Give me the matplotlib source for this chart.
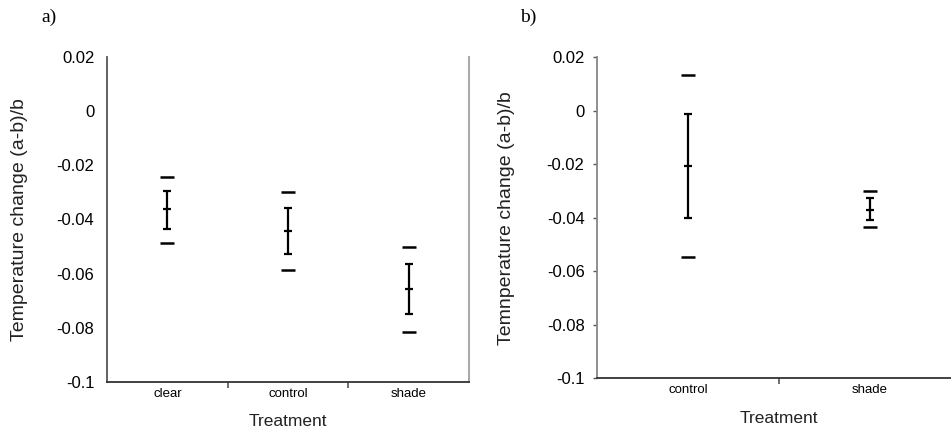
import matplotlib
matplotlib.use("Agg")
import matplotlib.pyplot as plt

plt.rcParams['font.family'] = ['Liberation Sans', 'DejaVu Sans']

# panel a
cats_a = ['clear', 'control', 'shade']
mean_a = [-0.0362, -0.0443, -0.0657]
se_lo_a = [-0.0436, -0.0529, -0.0748]
se_hi_a = [-0.0296, -0.0358, -0.0566]
out_lo_a = [-0.0486, -0.0587, -0.0817]
out_hi_a = [-0.0242, -0.0298, -0.0500]

# panel b
cats_b = ['control', 'shade']
mean_b = [-0.0207, -0.0371]
se_lo_b = [-0.0402, -0.0408]
se_hi_b = [-0.0013, -0.0327]
out_lo_b = [-0.0545, -0.0434]
out_hi_b = [0.0131, -0.0300]

yticks = [0.02, 0, -0.02, -0.04, -0.06, -0.08, -0.1]
ytick_labels = ['0.02', '0', '-0.02', '-0.04', '-0.06', '-0.08', '-0.1']

fig = plt.figure(figsize=(9.51, 4.36), dpi=100)
ax_a = fig.add_axes([0.1125, 0.1239, 0.3807, 0.7454])
ax_b = fig.add_axes([0.6278, 0.1319, 0.3828, 0.7374])


def draw(ax, cats, mean, lo, hi, olo, ohi, ylab, yticklen):
    x = list(range(len(cats)))
    err = [[m - l for m, l in zip(mean, lo)], [h - m for m, h in zip(mean, hi)]]
    ax.errorbar(x, mean, yerr=err, fmt='none', ecolor='black', elinewidth=1.6,
                capsize=3, capthick=1.6)
    ax.plot(x, mean, ls='none', marker='_', ms=6, mew=1.6, color='black')
    ax.plot(x, olo, ls='none', marker='_', ms=10, mew=1.8, color='black')
    ax.plot(x, ohi, ls='none', marker='_', ms=10, mew=1.8, color='black')
    ax.set_xlim(-0.5, len(cats) - 0.5)
    ax.set_ylim(-0.1, 0.02)
    ax.set_yticks(yticks)
    ax.set_yticklabels(ytick_labels, fontsize=12)
    ax.tick_params(axis='y', length=yticklen, width=1, color='#555555', pad=9 - yticklen)
    ax.set_xticks(x)
    ax.set_xticklabels(cats, fontsize=9.5)
    ax.tick_params(axis='x', length=0, pad=4)
    ax.set_xticks([i + 0.5 for i in x[:-1]], minor=True)
    ax.tick_params(axis='x', which='minor', length=4, width=1.2, color='#555555')
    ax.spines['top'].set_visible(False)
    ax.spines['left'].set_color('#555555')
    ax.spines['left'].set_linewidth(1.3)
    ax.spines['bottom'].set_color('#333333')
    ax.spines['bottom'].set_linewidth(1.3)
    ax.set_ylabel(ylab, fontsize=14, color='#222222')
    ax.set_xlabel('Treatment', fontsize=12.5, color='#222222')
    ax.xaxis.set_label_coords(0.5, -0.1)


draw(ax_a, cats_a, mean_a, se_lo_a, se_hi_a, out_lo_a, out_hi_a,
     'Temperature change (a-b)/b', 0)
ax_a.spines['right'].set_color('#aaaaaa')
ax_a.spines['right'].set_linewidth(1.5)
ax_a.yaxis.set_label_coords(-0.218, 0.5)

draw(ax_b, cats_b, mean_b, se_lo_b, se_hi_b, out_lo_b, out_hi_b,
     'Temnperature change (a-b)/b', 3)
ax_b.spines['right'].set_visible(False)
ax_b.spines['left'].set_color('#888888')
ax_b.yaxis.set_label_coords(-0.225, 0.5)

fig.text(0.044, 0.961, 'a)', fontsize=14, family='Liberation Serif', va='center')
fig.text(0.547, 0.961, 'b)', fontsize=14, family='Liberation Serif', va='center')

fig.savefig('out.png', dpi=100)
